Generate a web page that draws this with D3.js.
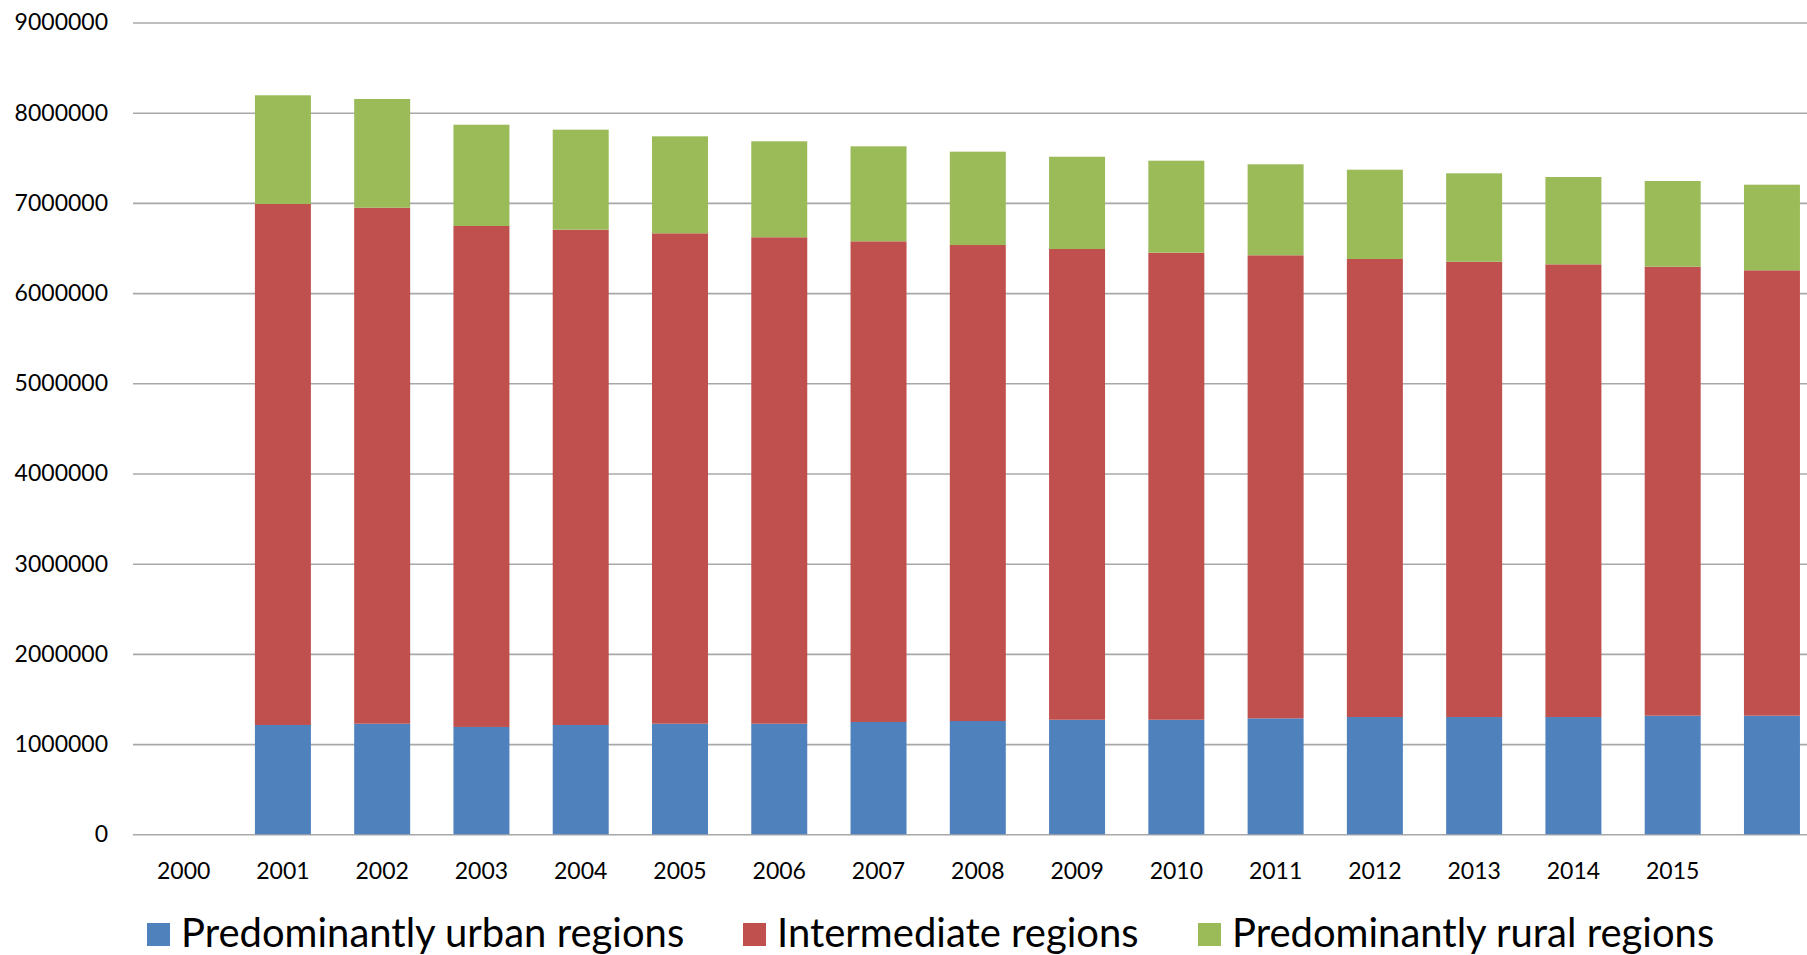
<!DOCTYPE html>
<html>
<head>
<meta charset="utf-8">
<script src="https://cdn.jsdelivr.net/npm/d3@7"></script>
<style>
  html, body { margin: 0; padding: 0; background: #fff; overflow: hidden; }
  svg { display: block; font-family: Lato, "Open Sans", sans-serif; }
</style>
</head>
<body>
<div id="chart"></div>
<script>
// categories (last one has no label in the source)
const years = ["2000","2001","2002","2003","2004","2005","2006","2007","2008",
               "2009","2010","2011","2012","2013","2014","2015","2016"];
const xTickLabels = ["2000","2001","2002","2003","2004","2005","2006","2007",
                     "2008","2009","2010","2011","2012","2013","2014","2015",""];

// series values (persons)
const urban = [0, 1212000, 1226000, 1190000, 1212000, 1226000, 1226000, 1245000, 1256000,
               1270000, 1270000, 1286000, 1300000, 1300000, 1300000, 1315000, 1315000];
const intermediate = [0, 5776000, 5721000, 5554000, 5491000, 5437000, 5393000, 5329000, 5277000,
                      5219000, 5178000, 5133000, 5078000, 5048000, 5019000, 4978000, 4938000];
const rural = [0, 1205000, 1205000, 1123000, 1109000, 1075000, 1064000, 1053000, 1035000,
               1023000, 1020000, 1009000, 990000, 980000, 968000, 950000, 949000];

const yTicks = [0, 1000000, 2000000, 3000000, 4000000, 5000000, 6000000, 7000000, 8000000, 9000000];

const seriesNames = ["Predominantly urban regions", "Intermediate regions", "Predominantly rural regions"];
const seriesKeys = ["urban", "intermediate", "rural"];
const colors = ["#4f81bd", "#c0504d", "#9bbb59"];

const W = 1807, H = 955;
const plotLeft = 134, step = 99.27;
const y0 = 834.3, yTop = 22.5;

const rows = years.map((yr, i) => ({ year: yr, urban: urban[i], intermediate: intermediate[i], rural: rural[i] }));

const svg = d3.select("#chart").append("svg")
  .attr("width", W).attr("height", H);

const x = d3.scaleBand()
  .domain(years)
  .range([plotLeft, plotLeft + step * years.length])
  .paddingInner(0.436)
  .paddingOuter(0.218);

const y = d3.scaleLinear().domain([0, 9000000]).range([y0, yTop]);

// gridlines
svg.append("g")
  .attr("transform", `translate(${plotLeft - 1},0)`)
  .call(d3.axisRight(y).tickValues(yTicks).tickSize(W).tickFormat(""))
  .call(g => g.select(".domain").remove())
  .call(g => g.selectAll("line").attr("stroke", "#a8a8a8").attr("stroke-width", 1.6));

// y labels
svg.append("g")
  .attr("transform", `translate(${plotLeft - 1},0)`)
  .call(d3.axisLeft(y).tickValues(yTicks).tickSize(0).tickPadding(25).tickFormat(d => String(d)))
  .call(g => g.select(".domain").remove())
  .call(g => g.selectAll("text").attr("fill", "#000").style("font-size", "23px").style("font-family", "Lato"));

// stacked bars
const stacked = d3.stack().keys(seriesKeys)(rows);

svg.append("g").selectAll("g")
  .data(stacked)
  .join("g")
  .attr("fill", (d, i) => colors[i])
  .selectAll("rect")
  .data(d => d)
  .join("rect")
  .attr("x", d => x(d.data.year))
  .attr("width", x.bandwidth())
  .attr("y", d => y(d[1]))
  .attr("height", d => y(d[0]) - y(d[1]));

// x labels
svg.append("g")
  .attr("transform", `translate(0,${y0})`)
  .call(d3.axisBottom(x).tickSize(0).tickPadding(28).tickFormat((d, i) => xTickLabels[i]))
  .call(g => g.select(".domain").remove())
  .call(g => g.selectAll("text").attr("fill", "#000").style("font-size", "23px").style("font-family", "Lato"));

// legend
const legendX = [147, 743, 1198];
const legend = svg.append("g").attr("transform", "translate(0,923)");
seriesNames.forEach((name, i) => {
  legend.append("rect")
    .attr("x", legendX[i]).attr("y", 0)
    .attr("width", 23).attr("height", 23)
    .attr("fill", colors[i]);
  legend.append("text")
    .attr("x", legendX[i] + 34).attr("y", 24)
    .attr("fill", "#000")
    .style("font-size", "40px")
    .style("font-family", "Lato")
    .text(name);
});
</script>
</body>
</html>
